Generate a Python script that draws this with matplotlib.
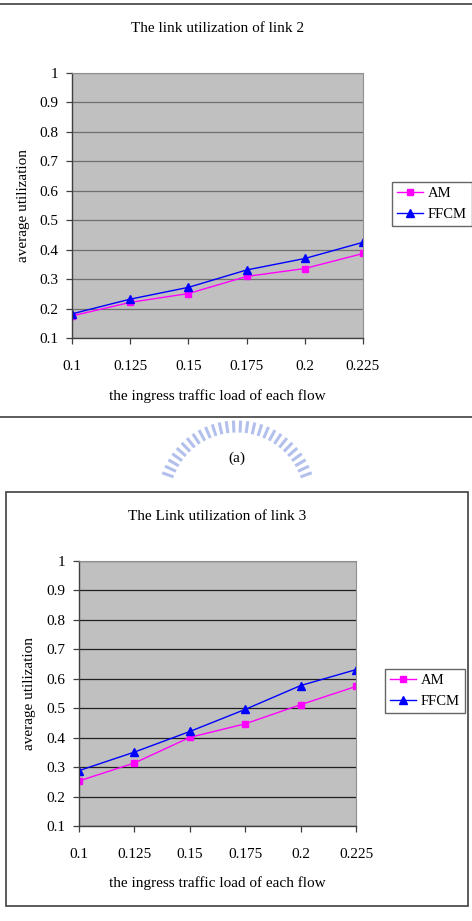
import matplotlib.pyplot as plt
import numpy as np
from matplotlib.lines import Line2D
from matplotlib.patches import Rectangle

plt.rcParams['font.family'] = ['Liberation Serif', 'DejaVu Serif']

loads = ['0.1', '0.125', '0.15', '0.175', '0.2', '0.225']
yticks = [0.1, 0.2, 0.3, 0.4, 0.5, 0.6, 0.7, 0.8, 0.9, 1]
ytick_labels = ['0.1', '0.2', '0.3', '0.4', '0.5', '0.6', '0.7', '0.8', '0.9', '1']

am_link2 = [0.175, 0.221, 0.251, 0.309, 0.336, 0.387]
ffcm_link2 = [0.182, 0.232, 0.272, 0.331, 0.370, 0.425]
am_link3 = [0.253, 0.314, 0.401, 0.447, 0.512, 0.574]
ffcm_link3 = [0.288, 0.351, 0.421, 0.496, 0.577, 0.631]

W, H = 472, 921
fig = plt.figure(figsize=(W / 100, H / 100), dpi=100)


def px(x0, y0, x1, y1):
    # pixel box (top-left origin) -> figure fraction rect
    return [x0 / W, 1 - y1 / H, (x1 - x0) / W, (y1 - y0) / H]


def draw_chart(rect, title, am, ffcm, title_y, xlab_y, ylab_x, leg_xy, gridc):
    ax = fig.add_axes(px(*rect))
    ax.set_facecolor('#c0c0c0')
    x = np.arange(len(loads))
    ax.set_xlim(0, len(loads) - 1)
    ax.set_ylim(0.1, 1.0)
    ax.set_yticks(yticks)
    ax.set_yticklabels(ytick_labels)
    ax.set_xticks(x)
    ax.set_xticklabels(loads)
    ax.yaxis.grid(True, color=gridc, linewidth=0.9)
    ax.set_axisbelow(True)
    for s in ['top', 'right']:
        ax.spines[s].set_color('#909090')
        ax.spines[s].set_linewidth(0.8)
    for s in ['left', 'bottom']:
        ax.spines[s].set_color('#404040')
        ax.spines[s].set_linewidth(1.0)
    ax.tick_params(axis='both', length=4, width=0.9, color='#404040',
                   labelsize=11, direction='out')
    ax.tick_params(axis='x', pad=12)
    ax.tick_params(axis='y', pad=6)
    l1, = ax.plot(x, am, color='#ff00ff', marker='s', markersize=5,
                  linewidth=1.0, label='AM')
    l2, = ax.plot(x, ffcm, color='#0000ff', marker='^', markersize=6,
                  linewidth=1.0, label='FFCM')
    fig.text((rect[0] + rect[2]) / 2 / W, 1 - title_y / H, title,
             ha='center', va='center', fontsize=11)
    fig.text((rect[0] + rect[2]) / 2 / W, 1 - xlab_y / H,
             'the ingress traffic load of each flow',
             ha='center', va='center', fontsize=11)
    fig.text(ylab_x / W, 1 - ((rect[1] + rect[3]) / 2) / H,
             'average utilization', rotation=90,
             ha='center', va='center', fontsize=11)
    lx0, ly0 = leg_xy
    fig.legend(handles=[l1, l2], loc='upper left',
               bbox_to_anchor=(lx0 / W, 1 - ly0 / H), frameon=True,
               fancybox=False, edgecolor='#404040', fontsize=10.5,
               handlelength=1.8, handletextpad=0.3, borderpad=0.35,
               labelspacing=0.5, borderaxespad=0.0)
    return ax


draw_chart((72, 73, 363, 338), 'The link utilization of link 2',
           am_link2, ffcm_link2, 29, 396, 24, (392, 182), '#707070')
draw_chart((79, 561, 356, 826), 'The Link utilization of link 3',
           am_link3, ffcm_link3, 516, 883, 29, (385, 669), '#202020')

# frame lines around the two chart objects
for yy in (4, 417):
    fig.add_artist(Line2D([0, 1], [1 - yy / H, 1 - yy / H],
                          color='#404040', linewidth=1.2))
fig.add_artist(Rectangle((6 / W, 1 - 906 / H), 462 / W, 414 / H,
                         fill=False, edgecolor='#404040', linewidth=1.2))

# faint watermark arc
cx, cy, r = 237, 500, 78
for a in np.linspace(np.radians(160), np.radians(20), 28):
    x0, y0 = cx + r * np.cos(a), cy - r * np.sin(a)
    x1, y1 = cx + (r - 9) * np.cos(a), cy - (r - 9) * np.sin(a)
    fig.add_artist(Line2D([x0 / W, x1 / W], [1 - y0 / H, 1 - y1 / H],
                          color='#b3c0ec', linewidth=2.2, zorder=0))

fig.text(237 / W, 1 - 458 / H, '(a)', ha='center', va='center', fontsize=11)

fig.savefig('out.png', dpi=100)
